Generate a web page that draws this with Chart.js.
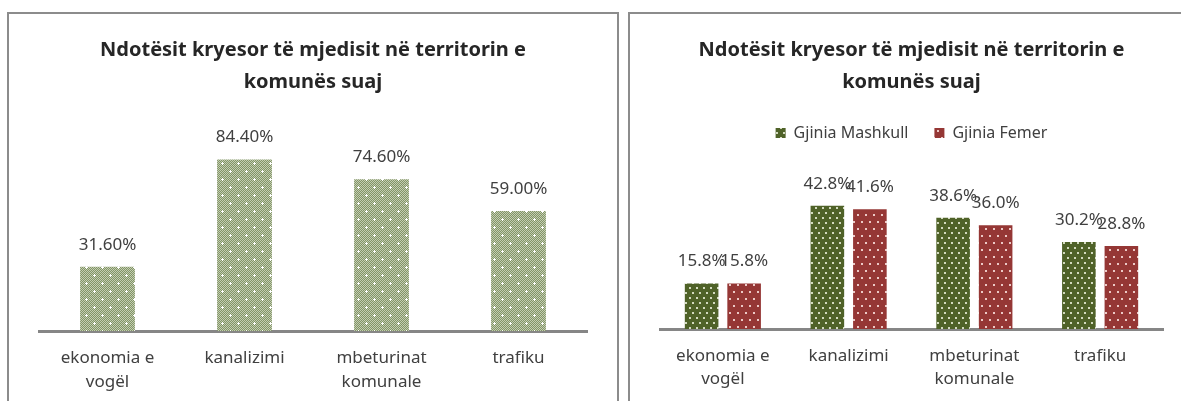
<!DOCTYPE html>
<html>
<head>
<meta charset="utf-8">
<script src="https://cdn.jsdelivr.net/npm/chart.js@4.4.1/dist/chart.umd.min.js"></script>
<style>
  html, body { margin: 0; padding: 0; background: #fff; width: 1181px; height: 401px; overflow: hidden; }
  .frame { position: absolute; border: 2px solid #8c8c8c; box-sizing: border-box; background: #fff; }
  #frameL { left: 7px; top: 12px; width: 612px; height: 430px; }
  #frameR { left: 628px; top: 12px; width: 600px; height: 430px; }
  canvas { position: absolute; }
  #chartL { left: 10px; top: 15px; }
  #chartR { left: 631px; top: 15px; }
</style>
</head>
<body>
<div class="frame" id="frameL"></div>
<div class="frame" id="frameR"></div>
<canvas id="chartL" width="606" height="386"></canvas>
<canvas id="chartR" width="550" height="386"></canvas>
<script>
const categories = [['ekonomia e', 'vogël'], 'kanalizimi', ['mbeturinat', 'komunale'], 'trafiku'];
const totalValues = [31.6, 84.4, 74.6, 59.0];
const maleValues = [15.8, 42.8, 38.6, 30.2];
const femaleValues = [15.8, 41.6, 36.0, 28.8];
const seriesNames = ['Gjinia Mashkull', 'Gjinia Femer'];
const titleLines = ['Ndotësit kryesor të mjedisit në territorin e', 'komunës suaj'];

const FONT = '"Noto Sans", sans-serif';
const TEXT = '#404040';

/* === fill patterns (Excel style) === */
function checkPattern() {
  const c = document.createElement('canvas');
  c.width = 16; c.height = 16;
  const g = c.getContext('2d');
  for (let y = 0; y < 16; y++) {
    for (let x = 0; x < 16; x++) {
      g.fillStyle = (x + y) % 2 ? '#c4cdb3' : '#829566';
      g.fillRect(x, y, 1, 1);
    }
  }
  g.fillStyle = '#ffffff';
  [[4, 4], [12, 12]].forEach(([px, py]) => {
    g.fillRect(px - 1, py, 3, 1);
    g.fillRect(px, py - 1, 1, 3);
  });
  return g.createPattern(c, 'repeat');
}

function dotPattern(base, dot, w, h, dots) {
  const c = document.createElement('canvas');
  c.width = w; c.height = h;
  const g = c.getContext('2d');
  g.fillStyle = base;
  g.fillRect(0, 0, w, h);
  g.fillStyle = dot;
  dots.forEach(([px, py]) => g.fillRect(px, py, 2, 2));
  return g.createPattern(c, 'repeat');
}

/* === value labels above bars === */
const valueLabelsPlugin = {
  id: 'valueLabels',
  afterDatasetsDraw(chart) {
    const opt = chart.options.plugins.valueLabels;
    const ctx = chart.ctx;
    ctx.save();
    ctx.font = '17px ' + FONT;
    ctx.fillStyle = TEXT;
    ctx.textAlign = 'center';
    ctx.textBaseline = 'middle';
    chart.data.datasets.forEach((ds, i) => {
      chart.getDatasetMeta(i).data.forEach((bar, j) => {
        ctx.fillText(ds.data[j].toFixed(opt.digits) + '%', bar.x, bar.y - opt.offset);
      });
    });
    ctx.restore();
  }
};

/* === extra room under the legend === */
const legendGapPlugin = {
  id: 'legendGap',
  beforeInit(chart) {
    const gap = chart.options.plugins.legendGap?.extra;
    if (!gap || !chart.legend) return;
    const fit = chart.legend.fit;
    chart.legend.fit = function () {
      fit.bind(chart.legend)();
      this.height += gap;
    };
  }
};

function xScale(axisHeight, pad, lh) {
  return {
    grid: { display: false, drawTicks: false },
    border: { display: true, color: '#868686', width: 3 },
    ticks: {
      padding: pad, color: TEXT, maxRotation: 0, autoSkip: false,
      font: { family: FONT, size: 17, lineHeight: lh }
    },
    afterFit(s) { s.height = axisHeight; }
  };
}

function titleOpts(bottom) {
  return {
    display: true,
    text: titleLines,
    color: '#262626',
    font: { family: FONT, size: 20, weight: 'bold', lineHeight: 1.6 },
    padding: { top: 19, bottom: bottom }
  };
}

Chart.defaults.animation = false;

/* === Chart 1: total === */
new Chart(document.getElementById('chartL'), {
  type: 'bar',
  data: {
    labels: categories,
    datasets: [{
      data: totalValues,
      backgroundColor: checkPattern(),
      borderWidth: 0,
      barPercentage: 0.4,
      categoryPercentage: 1
    }]
  },
  options: {
    responsive: false,
    layout: { padding: { left: 29, right: 29, top: 0, bottom: 0 } },
    scales: {
      x: xScale(70, 15, 1.4),
      y: { display: false, min: 0, max: 90 }
    },
    plugins: {
      title: titleOpts(50),
      legend: { display: false },
      tooltip: { enabled: false },
      valueLabels: { digits: 2, offset: 22 }
    }
  },
  plugins: [valueLabelsPlugin]
});

/* === Chart 2: by gender === */
new Chart(document.getElementById('chartR'), {
  type: 'bar',
  data: {
    labels: categories,
    datasets: [{
      label: seriesNames[0],
      data: maleValues,
      backgroundColor: dotPattern('#4f6228', '#d3dabf', 7, 10, [[2, 2], [5, 7]]),
      borderWidth: 0,
      barPercentage: 0.79,
      categoryPercentage: 0.676
    }, {
      label: seriesNames[1],
      data: femaleValues,
      backgroundColor: dotPattern('#953735', '#ecc9c6', 8, 14, [[2, 3], [6, 10]]),
      borderWidth: 0,
      barPercentage: 0.79,
      categoryPercentage: 0.676
    }]
  },
  options: {
    responsive: false,
    layout: { padding: { left: 29, right: 18, top: 0, bottom: 0 } },
    scales: {
      x: xScale(72, 16, 1.35),
      y: { display: false, min: 0, max: 50 }
    },
    plugins: {
      title: titleOpts(1),
      legend: {
        display: true,
        labels: {
          boxWidth: 10, boxHeight: 10, padding: 26, color: TEXT,
          font: { family: FONT, size: 16 }
        }
      },
      legendGap: { extra: 34 },
      tooltip: { enabled: false },
      valueLabels: { digits: 1, offset: 22 }
    }
  },
  plugins: [valueLabelsPlugin, legendGapPlugin]
});
</script>
</body>
</html>
